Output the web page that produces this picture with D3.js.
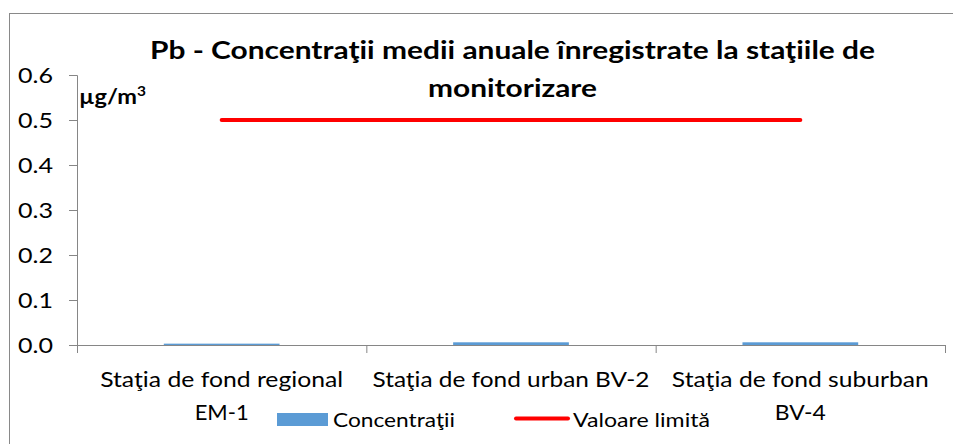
<!DOCTYPE html>
<html>
<head>
<meta charset="utf-8">
<script src="https://cdn.jsdelivr.net/npm/d3@7"></script>
<style>
  body { margin: 0; background: #fff; }
  text { font-family: Lato, "Open Sans", sans-serif; fill: #000; }
</style>
</head>
<body>
<svg class="plot" width="953" height="444"></svg>
<script>
  var width = 953
  var height = 444
  // data
  const stations = [["Staţia de fond regional", "EM-1"], ["Staţia de fond urban BV-2"], ["Staţia de fond suburban", "BV-4"]]
  const concentratii = [0.003, 0.006, 0.006]
  const valoareLimita = [0.5, 0.5, 0.5]
  const yTicks = [0.0, 0.1, 0.2, 0.3, 0.4, 0.5, 0.6]

  // the picture is a bit stretched sideways, so text gets squeezed/stretched to its measured width
  const labelWidths = [[243, 54], [277], [257, 51]]
  function fit(sel, w) {
    sel.attr("textLength", w).attr("lengthAdjust", "spacingAndGlyphs")
  }

  margin = { "top": 75, "right": 8, "bottom": 99, "left": 77 }
  const svg = d3.select("svg.plot")
  var chart_width = width - margin.left - margin.right
  var chart_height = height - margin.top - margin.bottom

  // chart border
  svg.append("rect")
    .attr("x", 9.5).attr("y", 13.5)
    .attr("width", 960).attr("height", 460)
    .attr("fill", "none").attr("stroke", "#898989")

  const keys = stations.map((d, i) => i)
  const xScale = d3.scaleBand().domain(keys).range([0, chart_width]).paddingInner(0.6).paddingOuter(0.3)
  const xCat = d3.scaleBand().domain(keys).range([0, chart_width])
  const yScale = d3.scaleLinear().domain([0, 0.6]).range([chart_height, 0])

  const g = svg.append("g").attr("transform", "translate(" + margin.left + "," + margin.top + ")")

  // y axis
  let leftAxis = d3.axisLeft(yScale).tickValues(yTicks).tickFormat(d3.format(".1f")).tickSize(8).tickPadding(16)
  const ya = g.append("g").attr("class", "y axis").call(leftAxis)
  ya.select(".domain").attr("stroke", "#868686").attr("d", "M-8,0.5H0.5V" + chart_height)
  ya.selectAll(".tick line").attr("stroke", "#868686")
  ya.selectAll(".tick text").style("font-size", "22px").attr("fill", "#000").call(fit, 35)

  // bars
  g.selectAll("rect.bar")
    .data(concentratii)
    .join("rect")
    .attr("class", "bar")
    .attr("x", (d, i) => xScale(i))
    .attr("width", xScale.bandwidth())
    .attr("y", d => yScale(d))
    .attr("height", d => chart_height - yScale(d))
    .attr("fill", "#5B9BD5")

  // x axis
  const xa = g.append("g").attr("transform", "translate(0," + chart_height + ")")
  xa.append("line").attr("x1", 0).attr("x2", chart_width).attr("y1", 0.5).attr("y2", 0.5).attr("stroke", "#868686")
  d3.range(keys.length + 1).forEach(i => {
    var xx = i < keys.length ? xCat(i) : chart_width
    xa.append("line").attr("x1", xx + 0.5).attr("x2", xx + 0.5).attr("y1", 0).attr("y2", 8).attr("stroke", "#868686")
  })
  stations.forEach((lines, i) => {
    var t = xa.append("text")
      .attr("text-anchor", "middle")
      .attr("x", xCat(i) + xCat.bandwidth() / 2)
      .attr("y", 42)
      .style("font-size", "22px")
    lines.forEach((s, j) => {
      t.append("tspan").attr("x", xCat(i) + xCat.bandwidth() / 2).attr("dy", j == 0 ? 0 : 33).text(s)
        .call(fit, labelWidths[i][j])
    })
  })

  // limit line
  const line = d3.line().x((d, i) => xCat(i) + xCat.bandwidth() / 2).y(d => yScale(d))
  g.append("path")
    .datum(valoareLimita)
    .attr("d", line)
    .attr("fill", "none")
    .attr("stroke", "#FF0000")
    .attr("stroke-width", 4)
    .attr("stroke-linecap", "round")

  // title
  const title = svg.append("text").attr("text-anchor", "middle").style("font-size", "25px").style("font-weight", "bold")
  title.append("tspan").attr("x", 512.5).attr("y", 59).text("Pb - Concentraţii medii anuale înregistrate la staţiile de").call(fit, 725)
  title.append("tspan").attr("x", 512.5).attr("y", 97).text("monitorizare").call(fit, 169)

  // unit
  const unit = svg.append("text").attr("x", 79).attr("y", 104).style("font-size", "20px").style("font-weight", "bold")
  unit.append("tspan").text("µg/m").call(fit, 58)
  unit.append("tspan").attr("dy", -8).style("font-size", "13px").text("3").call(fit, 9)

  // legend
  svg.append("rect").attr("x", 277).attr("y", 413).attr("width", 51).attr("height", 13).attr("fill", "#5B9BD5")
  svg.append("text").attr("x", 333).attr("y", 427).style("font-size", "20px").text("Concentraţii").call(fit, 122)
  svg.append("line").attr("x1", 516).attr("x2", 568).attr("y1", 418.5).attr("y2", 418.5)
    .attr("stroke", "#FF0000").attr("stroke-width", 4).attr("stroke-linecap", "round")
  svg.append("text").attr("x", 573).attr("y", 427).style("font-size", "20px").text("Valoare limită").call(fit, 137)
</script>
</body>
</html>
